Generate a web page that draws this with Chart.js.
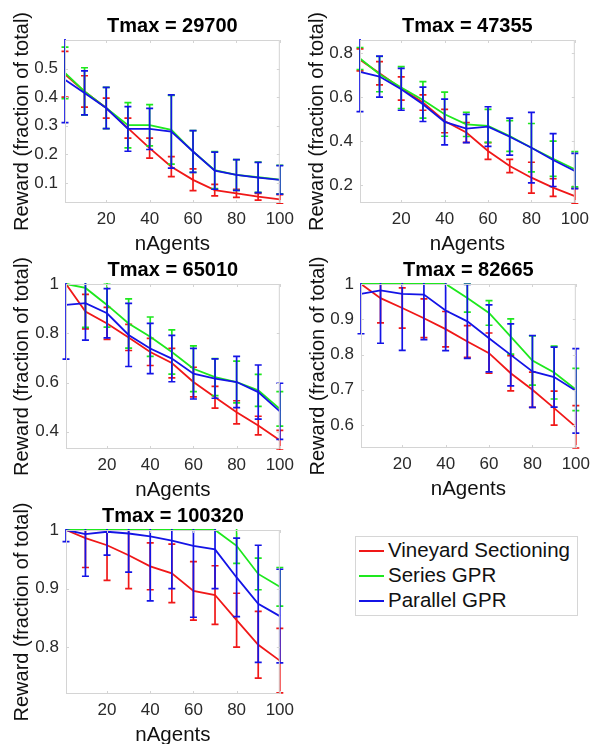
<!DOCTYPE html>
<html>
<head>
<meta charset="utf-8">
<script src="https://cdn.jsdelivr.net/npm/chart.js@4.4.1/dist/chart.umd.min.js"></script>
<style>
  body { margin: 0; background: #fff; width: 605px; height: 744px; position: relative; overflow: hidden;
         font-family: "Liberation Sans", Arial, sans-serif; }
  canvas { position: absolute; }
  #legend { position: absolute; left: 355px; top: 536px; width: 221px; height: 78px;
            border: 1px solid #d6d6d6; background: #fff; }
  .row { position: absolute; left: 0; height: 24px; font-size: 20.5px; line-height: 24px; color: #111; white-space: nowrap; }
  .row span { display: inline-block; width: 25px; height: 2px; vertical-align: middle; margin: 0 4px 2px 3px; }
</style>
</head>
<body>
<canvas id="c1" width="300" height="257" style="left:0;top:0"></canvas>
<canvas id="c2" width="300" height="257" style="left:295px;top:0"></canvas>
<canvas id="c3" width="300" height="259" style="left:0;top:244px"></canvas>
<canvas id="c4" width="300" height="258" style="left:296px;top:244px"></canvas>
<canvas id="c5" width="300" height="258" style="left:0;top:490px"></canvas>
<div id="legend"></div>
<script>
// x values and tick labels
var nAgents = [1, 10, 20, 30, 40, 50, 60, 70, 80, 90, 100];
var xTicks = [20, 40, 60, 80, 100];

var seriesNames = ['Vineyard Sectioning', 'Series GPR', 'Parallel GPR'];
var seriesColors = ['#f01818', '#1ee81e', '#1414e6'];

// Tmax = 29700
var vs29700 = [0.48, 0.42, 0.362, 0.292, 0.222, 0.157, 0.111, 0.075, 0.064, 0.052, 0.043];
var vsErr29700 = [0.08, 0.055, 0.035, 0.035, 0.035, 0.035, 0.038, 0.02, 0.014, 0.012, 0.016];
var sg29700 = [0.485, 0.42, 0.362, 0.302, 0.302, 0.286, 0.21, 0.145, 0.128, 0.12, 0.112];
var sgErr29700 = [0.09, 0.083, 0.072, 0.079, 0.072, 0.12, 0.073, 0.065, 0.054, 0.053, 0.05];
var pg29700 = [0.461, 0.415, 0.362, 0.289, 0.289, 0.28, 0.21, 0.143, 0.128, 0.119, 0.111];
var pgErr29700 = [0.15, 0.077, 0.072, 0.078, 0.072, 0.128, 0.073, 0.065, 0.054, 0.053, 0.05];

// Tmax = 47355
var vs47355 = [0.77, 0.709, 0.64, 0.576, 0.492, 0.44, 0.356, 0.288, 0.235, 0.19, 0.151];
var vsErr47355 = [0.05, 0.053, 0.053, 0.035, 0.053, 0.045, 0.038, 0.03, 0.07, 0.04, 0.035];
var sg47355 = [0.776, 0.705, 0.644, 0.588, 0.523, 0.477, 0.47, 0.424, 0.371, 0.321, 0.273];
var sgErr47355 = [0.05, 0.08, 0.095, 0.083, 0.1, 0.055, 0.075, 0.07, 0.11, 0.08, 0.08];
var pg47355 = [0.715, 0.694, 0.636, 0.568, 0.488, 0.458, 0.467, 0.421, 0.371, 0.315, 0.265];
var pgErr47355 = [0.18, 0.093, 0.095, 0.078, 0.104, 0.064, 0.09, 0.084, 0.16, 0.12, 0.08];

// Tmax = 65010
var vs65010 = [1.0, 0.888, 0.84, 0.783, 0.724, 0.679, 0.602, 0.54, 0.479, 0.425, 0.366];
var vsErr65010 = [0, 0.07, 0.065, 0.053, 0.055, 0.06, 0.06, 0.044, 0.047, 0.038, 0.04];
var sg65010 = [1.0, 0.984, 0.915, 0.84, 0.786, 0.724, 0.656, 0.622, 0.602, 0.568, 0.493];
var sgErr65010 = [0, 0.16, 0.09, 0.1, 0.08, 0.09, 0.093, 0.075, 0.085, 0.065, 0.07];
var pg65010 = [0.915, 0.922, 0.881, 0.793, 0.738, 0.697, 0.636, 0.616, 0.602, 0.561, 0.483];
var pgErr65010 = [0.22, 0.15, 0.1, 0.128, 0.102, 0.094, 0.103, 0.08, 0.104, 0.11, 0.114];

// Tmax = 82665
var vs82665 = [1.0, 0.96, 0.932, 0.903, 0.872, 0.837, 0.804, 0.747, 0.7, 0.648, 0.595];
var vsErr82665 = [0, 0.07, 0.057, 0.055, 0.05, 0.045, 0.057, 0.05, 0.05, 0.048, 0.06];
var sg82665 = [1, 1, 1, 1, 1, 0.96, 0.918, 0.851, 0.783, 0.749, 0.701];
var sgErr82665 = [0, 0, 0, 0, 0, 0.04, 0.035, 0.05, 0.07, 0.075, 0.06];
var pg82665 = [0.972, 0.982, 0.972, 0.97, 0.925, 0.894, 0.846, 0.799, 0.752, 0.736, 0.697];
var pgErr82665 = [0.113, 0.15, 0.16, 0.128, 0.114, 0.105, 0.095, 0.088, 0.102, 0.085, 0.12];

// Tmax = 100320
var vs100320 = [1, 0.986, 0.974, 0.957, 0.938, 0.926, 0.896, 0.889, 0.846, 0.804, 0.777];
var vsErr100320 = [0, 0.05, 0.06, 0.057, 0.04, 0.05, 0.05, 0.05, 0.046, 0.057, 0.055];
var sg100320 = [1, 1, 1, 1, 1, 1, 1, 1, 0.973, 0.925, 0.903];
var sgErr100320 = [0, 0, 0, 0, 0, 0, 0, 0, 0.03, 0.027, 0.033];
var pg100320 = [1, 0.993, 0.997, 0.994, 0.989, 0.982, 0.973, 0.967, 0.919, 0.874, 0.853];
var pgErr100320 = [0.02, 0.072, 0.04, 0.066, 0.11, 0.082, 0.122, 0.067, 0.067, 0.1, 0.08];

// y axis ranges and ticks per panel
var yRange29700 = [0.03, 0.6],   yTicks29700 = [0.1, 0.2, 0.3, 0.4, 0.5];
var yRange47355 = [0.12, 0.86],  yTicks47355 = [0.2, 0.4, 0.6, 0.8];
var yRange65010 = [0.33, 1],     yTicks65010 = [0.4, 0.6, 0.8, 1];
var yRange82665 = [0.535, 1],    yTicks82665 = [0.6, 0.7, 0.8, 0.9, 1];
var yRange100320 = [0.72, 1],    yTicks100320 = [0.8, 0.9, 1];

// draws error bars for each dataset, right after the dataset's line
var errorBars = {
  id: 'errorBars',
  afterDatasetDraw: function(chart, args) {
    var ds = chart.data.datasets[args.index];
    if (!ds.err) return;
    var ctx = chart.ctx, a = chart.chartArea, x = chart.scales.x, y = chart.scales.y;
    ctx.save();
    ctx.beginPath();
    ctx.rect(a.left - 6, a.top - 1, a.right - a.left + 12, a.bottom - a.top + 2);
    ctx.clip();
    ctx.strokeStyle = ds.borderColor;
    ctx.lineWidth = 1.7;
    ds.data.forEach(function(p, i) {
      var e = ds.err[i];
      if (!e) return;
      var px = x.getPixelForValue(p.x);
      var lo = y.getPixelForValue(p.y - e), hi = y.getPixelForValue(p.y + e);
      ctx.beginPath();
      ctx.moveTo(px, lo); ctx.lineTo(px, hi);
      ctx.moveTo(px - 3.5, lo); ctx.lineTo(px + 3.5, lo);
      ctx.moveTo(px - 3.5, hi); ctx.lineTo(px + 3.5, hi);
      ctx.stroke();
    });
    ctx.restore();
  }
};

// matlab-ish box with small inward ticks
var axesBox = {
  id: 'axesBox',
  afterDraw: function(chart) {
    var ctx = chart.ctx, a = chart.chartArea;
    ctx.save();
    ctx.strokeStyle = '#d4d4d4';
    ctx.lineWidth = 1;
    ctx.strokeRect(a.left + 0.5, a.top + 0.5, a.right - a.left - 1, a.bottom - a.top - 1);
    ctx.beginPath();
    chart.scales.x.ticks.forEach(function(t) {
      var px = Math.round(chart.scales.x.getPixelForValue(t.value)) + 0.5;
      ctx.moveTo(px, a.bottom); ctx.lineTo(px, a.bottom - 3);
      ctx.moveTo(px, a.top); ctx.lineTo(px, a.top + 3);
    });
    chart.scales.y.ticks.forEach(function(t) {
      var py = Math.round(chart.scales.y.getPixelForValue(t.value)) + 0.5;
      ctx.moveTo(a.left, py); ctx.lineTo(a.left + 3, py);
      ctx.moveTo(a.right, py); ctx.lineTo(a.right - 3, py);
    });
    ctx.stroke();
    ctx.restore();
  }
};

var fontFamily = '"Liberation Sans", Arial, sans-serif';

function makePanel(id, tmax, values, errors, yRange, yTicks, area) {
  var canvas = document.getElementById(id);
  var W = canvas.width;
  var datasets = values.map(function(vals, k) {
    return {
      label: seriesNames[k],
      data: nAgents.map(function(n, i) { return { x: n, y: vals[i] }; }),
      err: errors[k],
      borderColor: seriesColors[k],
      backgroundColor: seriesColors[k],
      borderWidth: 1.8,
      pointRadius: 0,
      tension: 0,
      clip: 3,
      order: 3 - k
    };
  });
  return new Chart(canvas, {
    type: 'line',
    data: { datasets: datasets },
    plugins: [errorBars, axesBox],
    options: {
      responsive: false,
      animation: false,
      devicePixelRatio: 1,
      layout: { padding: { left: 0, right: W - area.right, top: area.top - 26, bottom: 0 } },
      plugins: {
        legend: { display: false },
        tooltip: { enabled: false },
        title: {
          display: true,
          text: 'Tmax = ' + tmax,
          fullSize: false,
          color: '#000',
          font: { family: fontFamily, size: 20, weight: 'bold', lineHeight: 1.2 },
          padding: { top: 0, bottom: 2 }
        }
      },
      scales: {
        x: {
          type: 'linear',
          min: nAgents[0],
          max: nAgents[nAgents.length - 1],
          grid: { display: false, drawTicks: false },
          border: { display: false },
          afterBuildTicks: function(s) { s.ticks = xTicks.map(function(v) { return { value: v }; }); },
          afterFit: function(s) { s.height = canvas.height - area.bottom; },
          ticks: {
            padding: 6,
            maxRotation: 0,
            autoSkip: false,
            color: '#2a2a2a',
            font: { family: fontFamily, size: 17 }
          },
          title: {
            display: true,
            text: 'nAgents',
            color: '#111',
            padding: 0,
            font: { family: fontFamily, size: 20.5, lineHeight: 1.2 }
          }
        },
        y: {
          min: yRange[0],
          max: yRange[1],
          grid: { display: false, drawTicks: false },
          border: { display: false },
          afterBuildTicks: function(s) { s.ticks = yTicks.map(function(v) { return { value: v }; }); },
          afterFit: function(s) { s.width = area.left; },
          ticks: {
            padding: 7,
            color: '#2a2a2a',
            font: { family: fontFamily, size: 17 },
            callback: function(v) { return String(+Number(v).toFixed(2)); }
          },
          title: {
            display: true,
            text: 'Reward (fraction of total)',
            color: '#111',
            padding: { top: 10, bottom: 0 },
            font: { family: fontFamily, size: 20, lineHeight: 1.2 }
          }
        }
      }
    }
  });
}

makePanel('c1', 29700, [vs29700, sg29700, pg29700], [vsErr29700, sgErr29700, pgErr29700],
  yRange29700, yTicks29700, { left: 65, right: 290, top: 40, bottom: 203 });
makePanel('c2', 47355, [vs47355, sg47355, pg47355], [vsErr47355, sgErr47355, pgErr47355],
  yRange47355, yTicks47355, { left: 65, right: 288, top: 40, bottom: 203 });
makePanel('c3', 65010, [vs65010, sg65010, pg65010], [vsErr65010, sgErr65010, pgErr65010],
  yRange65010, yTicks65010, { left: 66, right: 290, top: 40, bottom: 205 });
makePanel('c4', 82665, [vs82665, sg82665, pg82665], [vsErr82665, sgErr82665, pgErr82665],
  yRange82665, yTicks82665, { left: 65, right: 287, top: 40, bottom: 204 });
makePanel('c5', 100320, [vs100320, sg100320, pg100320], [vsErr100320, sgErr100320, pgErr100320],
  yRange100320, yTicks100320, { left: 66, right: 288, top: 40, bottom: 204 });

// legend box
var legend = document.getElementById('legend');
var rowTops = [1, 26, 51];
seriesNames.forEach(function(name, k) {
  var row = document.createElement('div');
  row.className = 'row';
  row.style.top = rowTops[k] + 'px';
  var mark = document.createElement('span');
  mark.style.background = seriesColors[k];
  row.appendChild(mark);
  row.appendChild(document.createTextNode(name));
  legend.appendChild(row);
});
</script>
</body>
</html>
